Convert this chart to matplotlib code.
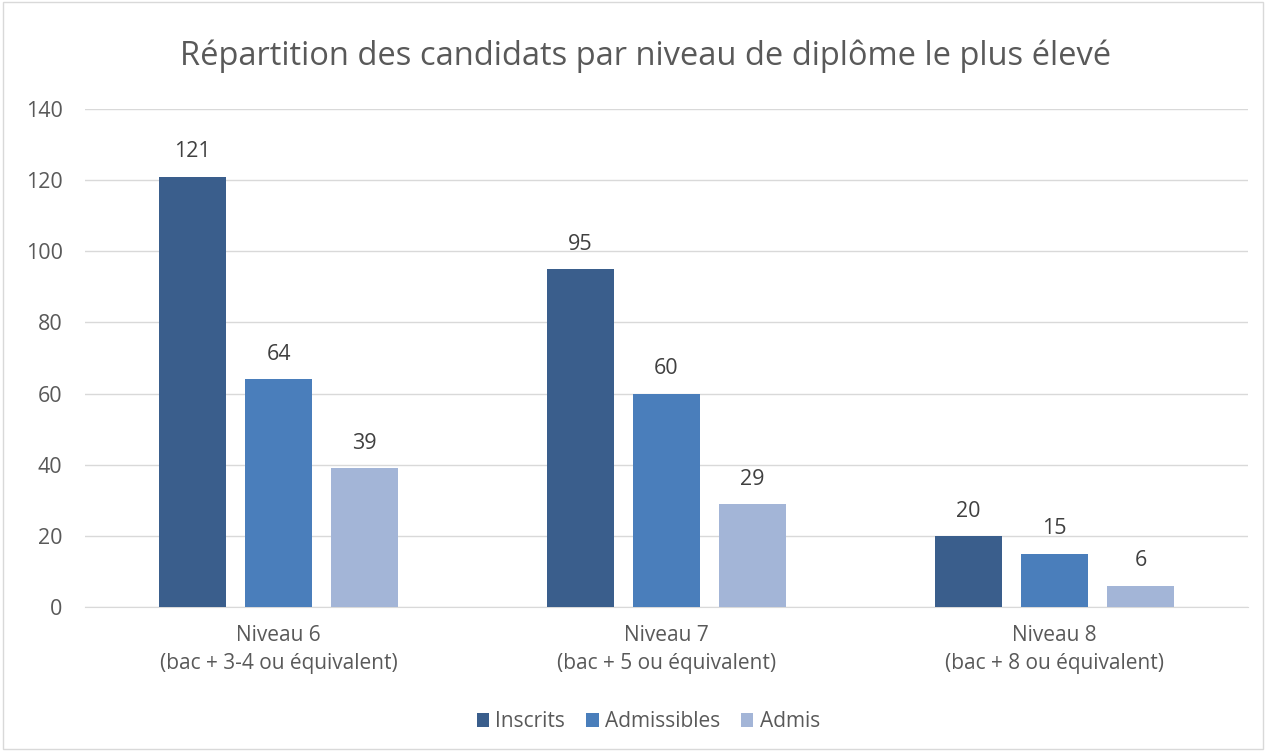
import numpy as np
import matplotlib.pyplot as plt
from matplotlib.patches import Rectangle

categories = ["Niveau 6\n(bac + 3-4 ou équivalent)",
              "Niveau 7\n(bac + 5 ou équivalent)",
              "Niveau 8\n(bac + 8 ou équivalent)"]
series = ["Inscrits", "Admissibles", "Admis"]
inscrits = [121, 95, 20]
admissibles = [64, 60, 15]
admis = [39, 29, 6]
colors = ["#3A5E8C", "#4A7EBB", "#A3B5D7"]

plt.rcParams['font.family'] = ['Open Sans', 'DejaVu Sans']
text_color = "#595959"

fig = plt.figure(figsize=(12.66, 7.51), dpi=100)
ax = fig.add_axes([0.067, 0.1917, 0.919, 0.6632])

x = np.arange(len(categories))
width = 0.173
offset = 0.222
for i, (name, vals) in enumerate(zip(series, [inscrits, admissibles, admis])):
    pos = x + (i - 1) * offset
    ax.bar(pos, vals, width, color=colors[i], label=name, zorder=3)
    for p, v in zip(pos, vals):
        ax.text(p, v + 4, str(v), ha='center', va='bottom', fontsize=15.5, color="#404040")

ax.set_xlim(-0.5, 2.5)
ax.set_ylim(0, 140)
ax.set_yticks(range(0, 141, 20))
ax.yaxis.grid(True, color="#D9D9D9", linewidth=1, zorder=0)
ax.set_xticks(x)
ax.set_xticklabels(categories, fontsize=15, color=text_color, linespacing=1.45)
ax.tick_params(axis='y', labelsize=15.5, colors=text_color, length=0, pad=16)
ax.tick_params(axis='x', length=0, pad=13)
for s in ['top', 'right', 'left']:
    ax.spines[s].set_visible(False)
ax.spines['bottom'].set_color("#D9D9D9")

fig.text(0.51, 0.925, "Répartition des candidats par niveau de diplôme le plus élevé",
         fontsize=23.5, color=text_color, ha='center', va='center')

fig.legend(loc='lower center', ncol=3, frameon=False, fontsize=15,
           bbox_to_anchor=(0.512, 0.0), handlelength=0.6, handleheight=0.6,
           columnspacing=1.0, handletextpad=0.3, labelcolor=text_color)

fig.patches.append(Rectangle((0.002, 0.002), 0.996, 0.996, transform=fig.transFigure,
                             fill=False, edgecolor="#D9D9D9", linewidth=1))

fig.savefig("out.png", dpi=100)
